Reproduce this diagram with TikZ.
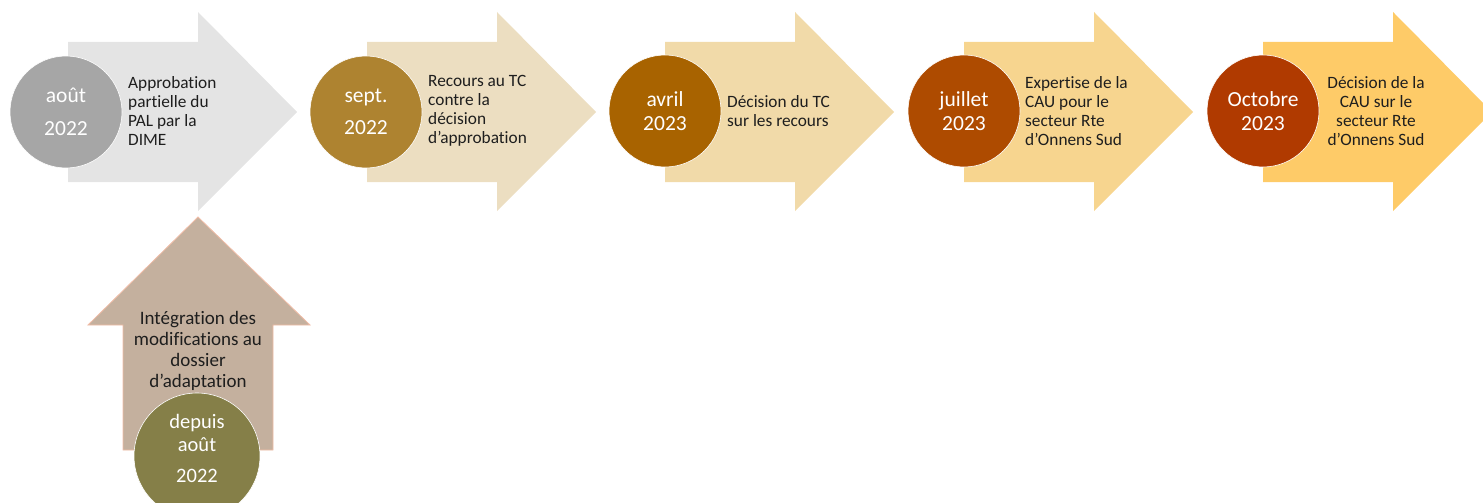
\documentclass[tikz,border=0pt]{standalone}
\usepackage{fontspec}
\setmainfont{Carlito}[Ligatures={NoCommon}]
\definecolor{aA}{HTML}{E4E4E4}\definecolor{cA}{HTML}{A6A6A6}
\definecolor{aB}{HTML}{ECDEC1}\definecolor{cB}{HTML}{AE8330}
\definecolor{aC}{HTML}{F1DAA9}\definecolor{cC}{HTML}{A86300}
\definecolor{aD}{HTML}{F7D58F}\definecolor{cD}{HTML}{AE4B00}
\definecolor{aE}{HTML}{FECB68}\definecolor{cE}{HTML}{B03A00}
\definecolor{aU}{HTML}{C4B09E}\definecolor{bU}{HTML}{F0BCA6}
\definecolor{cU}{HTML}{857F48}
\definecolor{txt}{HTML}{1E1E1E}
\tikzset{
  datecircle/.style={circle, draw=white, line width=0.6pt, minimum size=112pt, inner sep=0pt,
    text=white, align=center, font=\fontsize{21.5}{23.5}\selectfont},
  desc/.style={anchor=west, align=left, text=txt, inner sep=0pt,
    font=\fontsize{17.3}{19}\selectfont},
  descc/.style={align=center, text=txt, inner sep=0pt,
    font=\fontsize{17.3}{19}\selectfont},
}
\newcommand{\harrow}[2]{\fill[#2] (#1,42)--(#1+130,42)--(#1+130,12)--(#1+229,112)--(#1+130,211)--(#1+130,182)--(#1,182)--cycle;}
\begin{document}
\begin{tikzpicture}[x=1pt,y=-1pt]
\useasboundingbox (0,0) rectangle (1483,503);
\begin{scope}
\clip (0,0) rectangle (1483,503);
% horizontal arrows
\harrow{68}{aA}
\harrow{367}{aB}
\harrow{665}{aC}
\harrow{964}{aD}
\harrow{1263}{aE}
% up arrow
\filldraw[fill=aU, draw=bU, line width=0.8pt] (198,217)--(310,325)--(273,325)--(273,450)--(123,450)--(123,325)--(88,325)--cycle;
% circles
\node[datecircle, fill=cA] (c1) at (66,112) {août\\[10pt]2022};
\node[datecircle, fill=cB] (c2) at (366,112) {sept.\\[9pt]2022};
\node[datecircle, fill=cC] (c3) at (665,111) {avril\\2023};
\node[datecircle, fill=cD] (c4) at (964,111) {juillet\\2023};
\node[datecircle, fill=cE] (c5) at (1263,111) {Octobre\\2023};
\node[datecircle, fill=cU, minimum size=126pt] (c6) at (197,456) {};
\node[text=white, align=center, font=\fontsize{20.5}{23}\selectfont] (t6) at (197,448) {depuis\\août\\[8pt]2022};
% descriptions
\node[desc] (d1) at (128,111) {Approbation\\partielle du\\PAL par la\\DIME};
\node[desc] (d2) at (428,111) {Recours au TC\\contre la\\décision\\d’approbation};
\node[desc] (d3) at (727,111) {Décision du TC\\sur les recours};
\node[desc] (d4) at (1025,111) {Expertise de la\\CAU pour le\\secteur Rte\\d’Onnens Sud};
\node[descc] (d5) at (1376,111) {Décision de la\\CAU sur le\\secteur Rte\\d’Onnens Sud};
\node[descc, font=\fontsize{19}{21}\selectfont] (d6) at (198,351) {Intégration des\\modifications au\\dossier\\d’adaptation};
\end{scope}
\end{tikzpicture}
\end{document}
